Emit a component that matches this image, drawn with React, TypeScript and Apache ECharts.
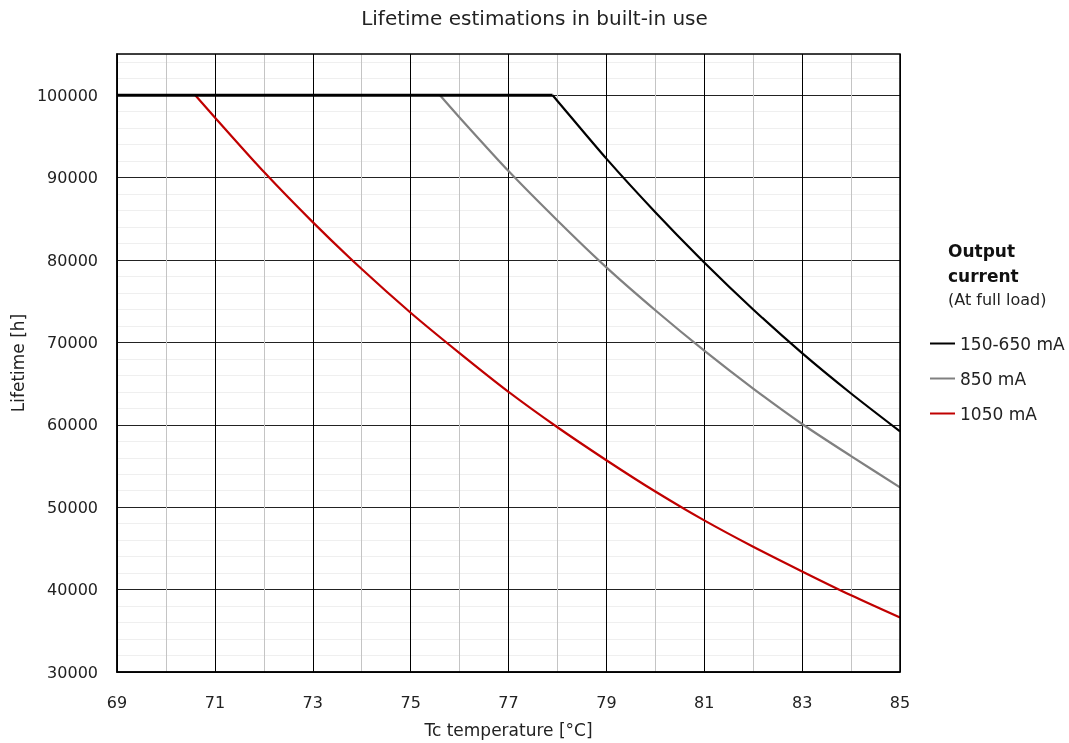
import React, { useEffect, useRef } from "react";
import * as echarts from "echarts";

const FONT = "DejaVu Sans";

const xTicks = [69, 71, 73, 75, 77, 79, 81, 83, 85];
const yTicks = [30000, 40000, 50000, 60000, 70000, 80000, 90000, 100000];

const flatPart: [number, number][] = [
  [69, 100000],
  [77.9, 100000],
];
const series150_650: [number, number][] = [
  [77.9, 100000], [78, 99300], [79, 92300], [80, 85800], [81, 79700],
  [82, 74000], [83, 68700], [84, 63800], [85, 59200],
];
const series850: [number, number][] = [
  [75.6, 100000], [76, 97300], [77, 90800], [78, 84800], [79, 79100],
  [80, 73900], [81, 69000], [82, 64400], [83, 60100], [84, 56200], [85, 52400],
];
const series1050: [number, number][] = [
  [70.6, 100000], [71, 97300], [72, 90700], [73, 84600], [74, 78900],
  [75, 73600], [76, 68700], [77, 64000], [78, 59700], [79, 55700],
  [80, 51900], [81, 48400], [82, 45200], [83, 42200], [84, 39300], [85, 36600],
];

const legendNames = ["150-650 mA", "850 mA", "1050 mA"];
const colors = ["#000000", "#808080", "#c00000"];

export default function App() {
  const ref = useRef<HTMLDivElement>(null);
  useEffect(() => {
    if (!ref.current) return;
    const chart = echarts.init(ref.current, null, { renderer: "svg" });
    const left = 117, top = 54, right = 169, bottom = 71;
    const W = 1069, H = 743;
    chart.setOption({
      animation: false,
      textStyle: { fontFamily: FONT },
      title: {
        text: "Lifetime estimations in built-in use",
        left: "center",
        top: 3,
        textStyle: { fontFamily: FONT, fontSize: 20, fontWeight: "normal", color: "#222" },
      },
      grid: { left, top, right, bottom, show: false },
      legend: {
        orient: "vertical",
        left: 925,
        top: 330,
        data: legendNames,
        icon: "rect",
        itemWidth: 25,
        itemHeight: 2,
        itemGap: 18,
        textStyle: { fontFamily: FONT, fontSize: 17, color: "#222" },
      },
      graphic: [
        {
          type: "rect",
          shape: { x: left, y: top, width: W - left - right, height: H - top - bottom },
          style: { fill: "none", stroke: "#000", lineWidth: 1.5 },
          z: 100,
        },
        {
          type: "text",
          left: 948,
          top: 238,
          style: { text: "Output\ncurrent", fontFamily: FONT, fontSize: 17, fontWeight: "bold", fill: "#111", lineHeight: 25 },
        },
        {
          type: "text",
          left: 948,
          top: 291,
          style: { text: "(At full load)", fontFamily: FONT, fontSize: 16, fill: "#222" },
        },
      ],
      xAxis: {
        type: "value",
        min: 69,
        max: 85,
        interval: 1,
        name: "Tc temperature [°C]",
        nameLocation: "middle",
        nameGap: 49,
        nameTextStyle: { fontFamily: FONT, fontSize: 17, color: "#222" },
        axisLine: { show: true, lineStyle: { color: "#000", width: 1.5 } },
        axisTick: { show: false },
        axisLabel: {
          margin: 22,
          fontFamily: FONT,
          fontSize: 16,
          color: "#222",
          formatter: (v: number) => (xTicks.indexOf(v) >= 0 ? String(v) : ""),
        },
        splitLine: { show: true, lineStyle: { color: ["#000000", "#c4c4c4"], width: 1 } },
      },
      yAxis: {
        type: "value",
        min: 30000,
        max: 105000,
        interval: 2000,
        name: "Lifetime [h]",
        nameLocation: "middle",
        nameGap: 90,
        nameTextStyle: { fontFamily: FONT, fontSize: 17, color: "#222" },
        axisLine: { show: true, lineStyle: { color: "#000", width: 1.5 } },
        axisTick: { show: false },
        axisLabel: {
          margin: 19,
          fontFamily: FONT,
          fontSize: 16,
          color: "#222",
          formatter: (v: number) => (yTicks.indexOf(v) >= 0 ? String(v) : ""),
        },
        splitLine: {
          show: true,
          lineStyle: { color: ["#222222", "#efefef", "#efefef", "#efefef", "#efefef"], width: 1 },
        },
      },
      series: [
        {
          name: "flat",
          type: "line",
          data: flatPart,
          symbol: "none",
          lineStyle: { color: colors[0], width: 3 },
          z: 5,
        },
        {
          name: legendNames[0],
          type: "line",
          data: series150_650,
          symbol: "none",
          smooth: 0.25,
          color: colors[0],
          lineStyle: { color: colors[0], width: 2.2 },
          z: 4,
        },
        {
          name: legendNames[1],
          type: "line",
          data: series850,
          symbol: "none",
          smooth: 0.25,
          color: colors[1],
          lineStyle: { color: colors[1], width: 2.2 },
          z: 3,
        },
        {
          name: legendNames[2],
          type: "line",
          data: series1050,
          symbol: "none",
          smooth: 0.25,
          color: colors[2],
          lineStyle: { color: colors[2], width: 2.2 },
          z: 3,
        },
      ],
    });
    return () => chart.dispose();
  }, []);
  return (
    <div
      ref={ref}
      style={{ position: "fixed", left: 0, top: 0, width: 1069, height: 743 }}
    />
  );
}
